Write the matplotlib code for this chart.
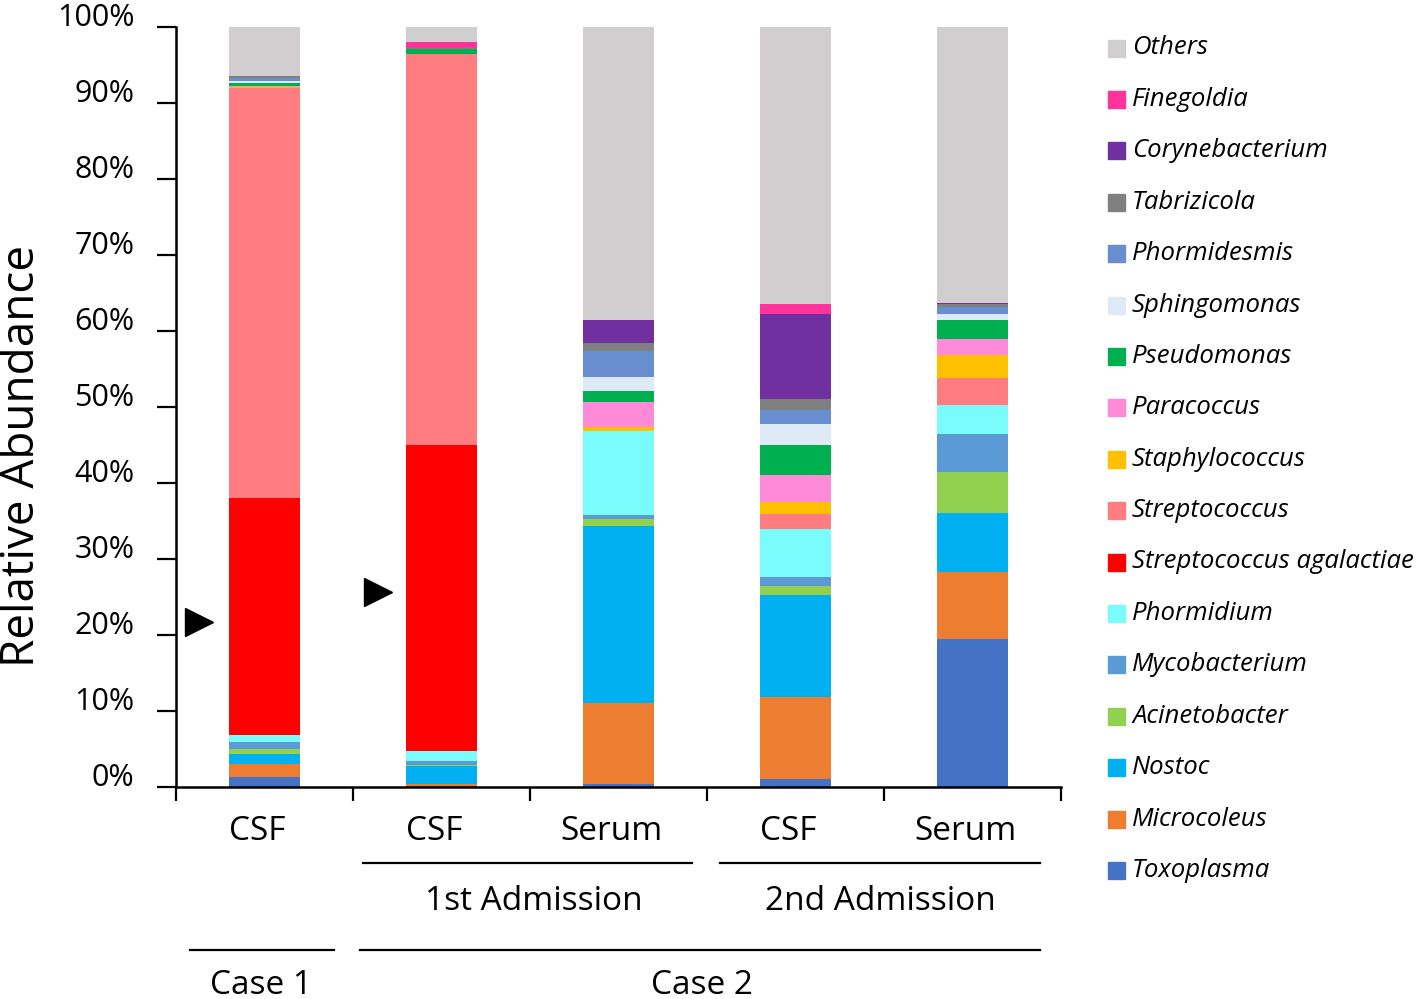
import numpy as np
import matplotlib
matplotlib.use("Agg")
import matplotlib.pyplot as plt
import matplotlib.transforms as mtransforms
from matplotlib.patches import Rectangle
from matplotlib.ticker import FuncFormatter

plt.rcParams["font.family"] = ["Open Sans", "DejaVu Sans"]

# --- Data (relative abundance, %) -----------------------------------------
categories = ["CSF", "CSF", "Serum", "CSF", "Serum"]

toxoplasma      = [1.3, 0.1, 0.4, 1.0, 19.5]
microcoleus     = [1.7, 0.3, 10.6, 10.9, 8.8]
nostoc          = [1.4, 2.4, 23.3, 13.3, 7.8]
acinetobacter   = [0.6, 0.1, 1.0, 1.3, 5.4]
mycobacterium   = [0.9, 0.5, 0.5, 1.1, 4.9]
phormidium      = [1.0, 1.3, 11.0, 6.4, 3.9]
strep_agal      = [31.1, 40.3, 0.0, 0.0, 0.0]
streptococcus   = [54.0, 51.4, 0.0, 1.9, 3.5]
staphylococcus  = [0.1, 0.0, 0.6, 1.6, 3.0]
paracoccus      = [0.2, 0.0, 3.2, 3.6, 2.2]
pseudomonas     = [0.3, 0.7, 1.5, 3.9, 2.4]
sphingomonas    = [0.3, 0.0, 1.8, 2.7, 0.9]
phormidesmis    = [0.4, 0.0, 3.5, 1.9, 0.8]
tabrizicola     = [0.3, 0.1, 1.0, 1.5, 0.4]
corynebacterium = [0.0, 0.0, 3.1, 11.1, 0.2]
finegoldia      = [0.0, 0.8, 0.0, 1.3, 0.0]
others          = [6.4, 2.0, 38.5, 36.5, 36.3]

series = [
    ("Toxoplasma", toxoplasma, "#4472C4"),
    ("Microcoleus", microcoleus, "#ED7D31"),
    ("Nostoc", nostoc, "#00B0F0"),
    ("Acinetobacter", acinetobacter, "#92D050"),
    ("Mycobacterium", mycobacterium, "#5B9BD5"),
    ("Phormidium", phormidium, "#7AFCFD"),
    ("Streptococcus agalactiae", strep_agal, "#FF0000"),
    ("Streptococcus", streptococcus, "#FF7C80"),
    ("Staphylococcus", staphylococcus, "#FFC000"),
    ("Paracoccus", paracoccus, "#FF8AD8"),
    ("Pseudomonas", pseudomonas, "#00B050"),
    ("Sphingomonas", sphingomonas, "#DEEBF7"),
    ("Phormidesmis", phormidesmis, "#698ED0"),
    ("Tabrizicola", tabrizicola, "#808080"),
    ("Corynebacterium", corynebacterium, "#7030A0"),
    ("Finegoldia", finegoldia, "#FF3399"),
    ("Others", others, "#D0CECE"),
]

W, H = 1418, 999
fig = plt.figure(figsize=(W / 100, H / 100), dpi=100)
ax = fig.add_axes([176 / W, 1 - 787 / H, (1061 - 176) / W, (787 - 27) / H])

x = np.arange(len(categories))
bottom = np.zeros(len(categories))
for name, vals, color in series:
    vals = np.array(vals)
    ax.bar(x, vals, width=0.4, bottom=bottom, color=color, edgecolor="none")
    bottom += vals

ax.set_xlim(-0.5, len(categories) - 0.5)
ax.set_ylim(0, 100)
ax.set_yticks(np.arange(0, 101, 10))
ax.yaxis.set_major_formatter(FuncFormatter(lambda v, p: f"{v:.0f}%"))
ax.tick_params(axis="y", direction="out", length=14, width=1.6,
               labelsize=22, pad=16)
# labels sit a little above their ticks in the original
shift = mtransforms.ScaledTranslation(0, 13 / 100, fig.dpi_scale_trans)
for lab in ax.get_yticklabels():
    lab.set_horizontalalignment("right")
    lab.set_transform(lab.get_transform() + shift)
ax.set_xticks(np.arange(-0.5, len(categories), 1.0))
ax.set_xticklabels([])
ax.tick_params(axis="x", direction="out", length=10, width=1.6)

for s in ["top", "right"]:
    ax.spines[s].set_visible(False)
for s in ["left", "bottom"]:
    ax.spines[s].set_linewidth(1.8)


def fy(py):
    return 1 - py / H


fig.text(22 / W, fy(456), "Relative Abundance", rotation=90,
         ha="center", va="center", fontsize=33)

# triangles marking Streptococcus agalactiae
ax.plot([-0.37, 0.64], [21.7, 25.7], linestyle="none", marker=">",
        markersize=20, color="black", clip_on=False)

# category / group labels below the axis
tr = mtransforms.blended_transform_factory(ax.transData, fig.transFigure)

for xi, lab in zip(x, categories):
    ax.text(xi - 0.04, fy(832), lab, transform=tr, ha="center", va="center",
            fontsize=24)

groups = [
    ("1st Admission", 0.556, 2.415, 1.52, 863, 902),
    ("2nd Admission", 2.573, 4.38, 3.48, 863, 902),
    ("Case 1", -0.42, 0.393, -0.02, 950, 985),
    ("Case 2", 0.54, 4.38, 2.47, 950, 985),
]
for lab, x0, x1, xc, ly, ty in groups:
    ax.plot([x0, x1], [fy(ly), fy(ly)], transform=tr, color="black",
            lw=1.6, clip_on=False)
    ax.text(xc, fy(ty), lab, transform=tr, ha="center", va="center", fontsize=24)

# legend, drawn by hand (reverse stacking order)
for i, (name, vals, color) in enumerate(reversed(series)):
    py = 48 + i * 51.4
    fig.patches.append(Rectangle((1108 / W, fy(py + 8.5)), 17 / W, 17 / H,
                                 transform=fig.transFigure, color=color))
    fig.text(1132 / W, fy(py), name, ha="left", va="center",
             fontsize=18.5, style="italic")

fig.savefig("out.png", dpi=100)
